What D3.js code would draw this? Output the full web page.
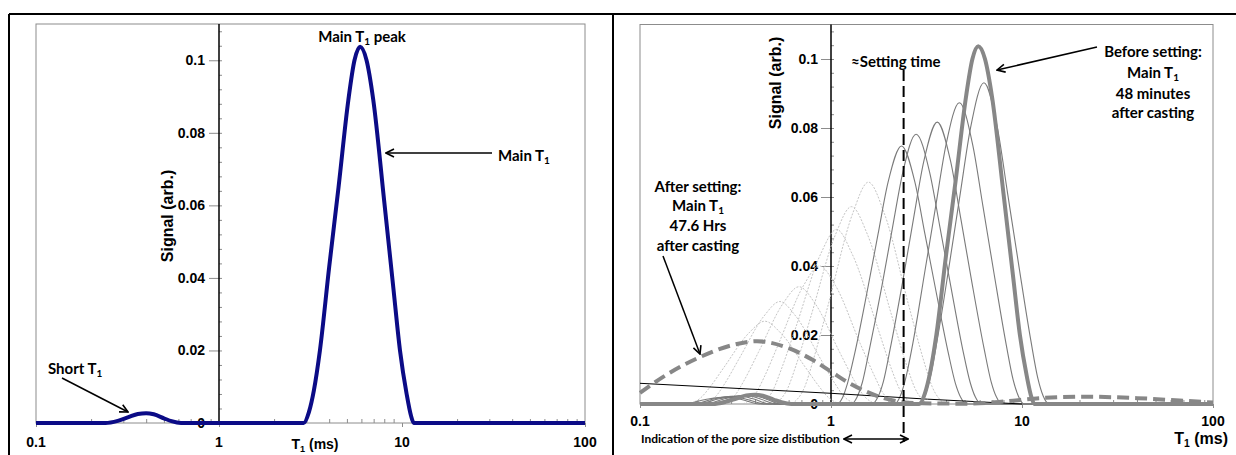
<!DOCTYPE html>
<html>
<head>
<meta charset="utf-8">
<script src="https://cdn.jsdelivr.net/npm/d3@7"></script>
<style>
  body { margin: 0; background: #fff; }
  svg { display: block; }
  .tick-lbl { font-family: Arial, "Liberation Sans", sans-serif; font-weight: bold; font-size: 14px; }
  .note { font-family: Lato, "Open Sans", sans-serif; font-weight: bold; font-size: 15px; }
</style>
</head>
<body>
<script>
// ---- data (T1 in ms, signal in arb. units) ----

// main T1 distribution, 48 minutes after casting (also the left panel curve)
var mainT1 = [[0.1, 0], [0.24, 0], [0.28, 0.0006], [0.32, 0.0016], [0.36, 0.0025], [0.4, 0.0027],
  [0.44, 0.0024], [0.5, 0.0013], [0.55, 0.0005], [0.62, 0], [2.9, 0], [3.1, 0.003], [3.3, 0.009],
  [3.56, 0.02], [4.0, 0.043], [4.5, 0.065], [5.09, 0.089], [5.5, 0.1], [5.9, 0.1037], [6.4, 0.1],
  [6.97, 0.089], [8.0, 0.061], [9.0, 0.0365], [9.75, 0.02], [10.6, 0.008], [11.2, 0.002], [11.6, 0], [100, 0]];

// intermediate curves (solid thin), earliest -> latest
var solid1 = [[0.1, 0], [0.17, 0], [0.22, 0.0013], [0.28, 0.002], [0.34, 0.0013], [0.42, 0], [1.07, 0], [1.15, 0.0019], [1.22, 0.006],
  [1.33, 0.0146], [1.55, 0.0329], [1.76, 0.049], [1.99, 0.0643], [2.34, 0.0748], [2.75, 0.0643], [3.11, 0.049],
  [3.54, 0.0329], [4.12, 0.0146], [4.48, 0.006], [4.78, 0.0019], [5.12, 0], [100, 0]];
var solid2 = [[0.1, 0], [0.19, 0], [0.24, 0.0014], [0.3, 0.0022], [0.36, 0.0014], [0.45, 0], [1.28, 0], [1.37, 0.002], [1.46, 0.0063],
  [1.58, 0.0152], [1.85, 0.0344], [2.1, 0.0512], [2.38, 0.0673], [2.79, 0.0782], [3.28, 0.0673], [3.72, 0.0512],
  [4.23, 0.0344], [4.92, 0.0152], [5.35, 0.0063], [5.7, 0.002], [6.11, 0], [100, 0]];
var solid3 = [[0.1, 0], [0.2, 0], [0.26, 0.0015], [0.33, 0.0024], [0.39, 0.0015], [0.48, 0], [1.64, 0], [1.76, 0.002], [1.88, 0.0065],
  [2.04, 0.0159], [2.38, 0.0359], [2.7, 0.0535], [3.06, 0.0703], [3.6, 0.0817], [4.23, 0.0703], [4.79, 0.0535],
  [5.44, 0.0359], [6.34, 0.0159], [6.89, 0.0065], [7.35, 0.002], [7.87, 0], [100, 0]];
var solid4 = [[0.1, 0], [0.22, 0], [0.28, 0.0016], [0.36, 0.0025], [0.42, 0.0016], [0.52, 0], [2.15, 0], [2.3, 0.0022], [2.45, 0.007],
  [2.67, 0.017], [3.1, 0.0384], [3.53, 0.0572], [4.0, 0.0751], [4.7, 0.0873], [5.52, 0.0751], [6.25, 0.0572],
  [7.11, 0.0384], [8.28, 0.017], [8.99, 0.007], [9.59, 0.0022], [10.28, 0], [100, 0]];
var solid5 = [[0.1, 0], [0.23, 0], [0.3, 0.0016], [0.38, 0.0026], [0.45, 0.0016], [0.55, 0], [2.89, 0], [3.1, 0.0023], [3.3, 0.0074],
  [3.59, 0.0182], [4.18, 0.041], [4.75, 0.061], [5.38, 0.0801], [6.32, 0.0931], [7.43, 0.0801], [8.41, 0.061],
  [9.57, 0.041], [11.14, 0.0182], [12.11, 0.0074], [12.91, 0.0023], [13.84, 0], [100, 0]];

// later curves (light dotted)
var dotted1 = [[0.625, 0], [0.73, 0.0051], [0.805, 0.0125], [0.962, 0.0283], [1.3, 0.0553], [1.57, 0.0643],
  [1.9, 0.0553], [2.56, 0.0283], [3.06, 0.0125], [3.38, 0.0051], [3.94, 0]];
var dotted2 = [[0.509, 0], [0.594, 0.0046], [0.656, 0.0112], [0.783, 0.0252], [1.057, 0.0492], [1.28, 0.0572],
  [1.55, 0.0492], [2.09, 0.0252], [2.49, 0.0112], [2.75, 0.0046], [3.21, 0]];
var dotted3 = [[0.426, 0], [0.497, 0.004], [0.548, 0.0099], [0.655, 0.0223], [0.883, 0.0435], [1.07, 0.0506],
  [1.29, 0.0435], [1.75, 0.0223], [2.08, 0.0099], [2.3, 0.004], [2.69, 0]];
var dotted4 = [[0.347, 0], [0.405, 0.0032], [0.447, 0.0078], [0.533, 0.0176], [0.719, 0.0344], [0.87, 0.04],
  [1.054, 0.0344], [1.42, 0.0176], [1.7, 0.0078], [1.87, 0.0032], [2.19, 0]];
var dotted5 = [[0.271, 0], [0.316, 0.0027], [0.349, 0.0066], [0.417, 0.015], [0.562, 0.0292], [0.68, 0.034],
  [0.824, 0.0292], [1.11, 0.015], [1.33, 0.0066], [1.47, 0.0027], [1.71, 0]];
var dotted6 = [[0.215, 0], [0.251, 0.0024], [0.277, 0.0058], [0.33, 0.0131], [0.446, 0.0255], [0.54, 0.0297],
  [0.653, 0.0255], [0.881, 0.0131], [1.052, 0.0058], [1.16, 0.0024], [1.36, 0]];
var dotted7 = [[0.179, 0], [0.209, 0.0019], [0.231, 0.0047], [0.275, 0.0106], [0.372, 0.0206], [0.45, 0.024],
  [0.545, 0.0206], [0.735, 0.0106], [0.877, 0.0047], [0.968, 0.0019], [1.13, 0]];

// 47.6 hrs after casting (thick dashed)
var afterT1 = [[0.1, 0.0032], [0.137, 0.0084], [0.204, 0.0135], [0.306, 0.0171], [0.41, 0.0182], [0.605, 0.0161],
  [0.8, 0.0128], [1.0, 0.0094], [1.25, 0.006], [1.5, 0.0038], [1.79, 0.0021], [2.28, 0.0007], [3.0, 0.0002],
  [5.0, 0.0001], [8.0, 0.0007], [12.4, 0.0017], [21.8, 0.0021], [40, 0.0017], [67, 0.001], [100, 0.0004]];

// thin black line
var blackLine = [[0.1, 0.006], [1, 0.0031], [3.2, 0.0014], [10, 0]];

var settingT1 = 2.4;

var xTicks = [0.1, 1, 10, 100];
var xTickLabels = ["0.1", "1", "10", "100"];
var yTicks = [0, 0.02, 0.04, 0.06, 0.08, 0.1];
var yTickLabels = ["0", "0.02", "0.04", "0.06", "0.08", "0.1"];


var W = 1236, H = 455;
var svg = d3.select("body").append("svg").attr("width", W).attr("height", H);

// arrow heads
var defs = svg.append("defs");
defs.append("marker").attr("id", "arr").attr("viewBox", "0 0 10 10")
    .attr("refX", 9).attr("refY", 5).attr("markerWidth", 10).attr("markerHeight", 10)
    .attr("markerUnits", "userSpaceOnUse").attr("orient", "auto-start-reverse")
  .append("path").attr("d", "M1,1 L9,5 L1,9").attr("fill", "none").attr("stroke", "#000").attr("stroke-width", 1.6);

// outer frame
svg.append("line").attr("x1", 9).attr("x2", W).attr("y1", 14).attr("y2", 14).attr("stroke", "#000").attr("stroke-width", 2);
svg.append("line").attr("x1", 9).attr("x2", 9).attr("y1", 14).attr("y2", H).attr("stroke", "#000").attr("stroke-width", 2);
svg.append("line").attr("x1", 613).attr("x2", 613).attr("y1", 14).attr("y2", H).attr("stroke", "#000").attr("stroke-width", 2);


// draws box, axes and tick labels of one panel, returns the scales
function drawFrame(p) {
  var x = d3.scaleLog().domain([0.1, 100]).range([p.left, p.right]);
  var y = d3.scaleLinear().domain([0, 0.11]).range([p.base, p.top]);
  var g = svg.append("g");

  g.append("rect").attr("x", p.left).attr("y", p.top).attr("width", p.right - p.left)
    .attr("height", p.base - p.top).attr("fill", "none").attr("stroke", "#8c8c8c").attr("stroke-width", 1);

  // x minor ticks (inside) and major (outside)
  var minor = [];
  [0.1, 1, 10].forEach(function(d) { for (var k = 2; k < 10; k++) minor.push(d * k); });
  g.append("g").attr("transform", "translate(0," + p.base + ")")
    .call(d3.axisTop(x).tickValues(minor).tickSize(4).tickFormat(""))
    .call(function(a) { a.select(".domain").remove(); a.selectAll("line").attr("stroke", "#8c8c8c"); });
  g.append("g").attr("transform", "translate(0," + p.base + ")")
    .call(d3.axisBottom(x).tickValues(xTicks).tickSize(4).tickFormat(""))
    .call(function(a) { a.select(".domain").remove(); a.selectAll("line").attr("stroke", "#8c8c8c"); });
  g.selectAll(".xl").data(xTicks).enter().append("text")
    .attr("class", "tick-lbl").attr("x", function(d) { return x(d); }).attr("y", p.base + p.xLblDy)
    .attr("text-anchor", "middle").text(function(d, i) { return xTickLabels[i]; });

  // y axis sits at T1 = 1
  var ax = x(1);
  g.append("g").attr("transform", "translate(" + ax + ",0)")
    .call(d3.axisRight(y).tickValues(d3.range(0.004, 0.11, 0.004)).tickSize(3).tickFormat(""))
    .call(function(a) { a.select(".domain").remove(); a.selectAll("line").attr("stroke", "#8c8c8c"); });
  g.append("g").attr("transform", "translate(" + ax + ",0)")
    .call(d3.axisLeft(y).tickValues(yTicks).tickSize(10).tickFormat(""))
    .call(function(a) { a.select(".domain").remove(); a.selectAll("line").attr("stroke", "#8c8c8c"); });
  g.append("line").attr("x1", ax).attr("x2", ax).attr("y1", p.top).attr("y2", p.base)
    .attr("stroke", "#000").attr("stroke-width", 1.5);
  g.selectAll(".yl").data(yTicks).enter().append("text")
    .attr("class", "tick-lbl").attr("x", ax - p.yLblDx).attr("y", function(d) { return y(d) + 5; })
    .attr("text-anchor", "end").text(function(d, i) { return yTickLabels[i]; });

  // axis titles
  g.append("text").attr("class", "tick-lbl").style("font-size", "16px")
    .attr("transform", "translate(" + p.yTitleX + "," + p.yTitleY + ") rotate(-90)")
    .attr("text-anchor", "middle").text("Signal (arb.)");
  var t = g.append("text").attr("class", "tick-lbl").style("font-size", p.xTitleSize + "px")
    .attr("x", p.xTitleX).attr("y", p.xTitleY).attr("text-anchor", p.xTitleAnchor);
  t.append("tspan").text("T");
  t.append("tspan").attr("dy", 3).style("font-size", (p.xTitleSize * 0.65) + "px").text("1");
  t.append("tspan").attr("dy", -3).text(" (ms)");

  return { x: x, y: y };
}

// text with an optional subscript "1" (written as "_1" in parts)
function note(x, y, parts, anchor, size) {
  var t = svg.append("text").attr("class", "note").attr("x", x).attr("y", y)
    .attr("text-anchor", anchor || "start");
  if (size) t.style("font-size", size + "px");
  var lift = 0;
  parts.forEach(function(s) {
    if (s === "_1") {
      t.append("tspan").attr("dy", 3).style("font-size", "10px").text("1");
      lift = -3;
    } else {
      t.append("tspan").attr("dy", lift).text(s);
      lift = 0;
    }
  });
  return t;
}

function arrow(x1, y1, x2, y2, both) {
  var l = svg.append("line").attr("x1", x1).attr("y1", y1).attr("x2", x2).attr("y2", y2)
    .attr("stroke", "#000").attr("stroke-width", 1.5).attr("marker-end", "url(#arr)");
  if (both) l.attr("marker-start", "url(#arr)");
}

////////////////////////////////////////
// left panel
var L = drawFrame({ left: 36, right: 585, top: 24, base: 423, xLblDy: 24, yLblDx: 14,
  yTitleX: 173, yTitleY: 216, xTitleX: 315, xTitleY: 449, xTitleSize: 14, xTitleAnchor: "middle" });

var lineL = d3.line().x(function(d) { return L.x(d[0]); }).y(function(d) { return L.y(d[1]); })
  .curve(d3.curveMonotoneX);
svg.append("path").datum(mainT1).attr("d", lineL)
  .attr("fill", "none").attr("stroke", "#0b0b86").attr("stroke-width", 4).attr("stroke-linejoin", "round");

note(362, 42, ["Main T", "_1", " peak"], "middle");
note(498, 161, ["Main T", "_1"]);
arrow(492, 153, 386, 153);
note(48, 374, ["Short T", "_1"]);
arrow(62, 378, 128, 412);

////////////////////////////////////////
// right panel
var R = drawFrame({ left: 640, right: 1213, top: 24.5, base: 404, xLblDy: 22, yLblDx: 13,
  yTitleX: 781, yTitleY: 83, xTitleX: 1228, xTitleY: 444, xTitleSize: 16, xTitleAnchor: "end" });

var lineR = d3.line().x(function(d) { return R.x(d[0]); }).y(function(d) { return R.y(d[1]); })
  .curve(d3.curveMonotoneX);

[dotted1, dotted2, dotted3, dotted4, dotted5, dotted6, dotted7].forEach(function(s) {
  svg.append("path").datum(s).attr("d", lineR).attr("fill", "none")
    .attr("stroke", "#c4c4c4").attr("stroke-width", 1).attr("stroke-dasharray", "2,1.5");
});
[solid1, solid2, solid3, solid4, solid5].forEach(function(s) {
  svg.append("path").datum(s).attr("d", lineR).attr("fill", "none")
    .attr("stroke", "#7a7a7a").attr("stroke-width", 1.1);
});
svg.append("path").datum(blackLine).attr("d", lineR.curve(d3.curveLinear)).attr("fill", "none")
  .attr("stroke", "#000").attr("stroke-width", 1);
lineR.curve(d3.curveMonotoneX);
svg.append("path").datum(afterT1).attr("d", lineR).attr("fill", "none")
  .attr("stroke", "#878787").attr("stroke-width", 4).attr("stroke-dasharray", "12,6");
svg.append("path").datum(mainT1).attr("d", lineR).attr("fill", "none")
  .attr("stroke", "#878787").attr("stroke-width", 4).attr("stroke-linejoin", "round");

// setting time marker
svg.append("line").attr("x1", R.x(settingT1)).attr("x2", R.x(settingT1)).attr("y1", 70).attr("y2", 442)
  .attr("stroke", "#000").attr("stroke-width", 2).attr("stroke-dasharray", "11,5");
note(851, 67, ["\u2248Setting time"]);

note(1153, 57, ["Before setting:"], "middle");
note(1153, 78, ["Main T", "_1"], "middle");
note(1153, 99, ["48 minutes"], "middle");
note(1153, 118, ["after casting"], "middle");
arrow(1097, 47, 997, 70);

note(698, 192, ["After setting:"], "middle");
note(698, 211, ["Main T", "_1"], "middle");
note(698, 231, ["47.6 Hrs"], "middle");
note(698, 251, ["after casting"], "middle");
arrow(663, 256, 700, 354);

note(641, 443, ["Indication of the pore size distibution"], "start", 12);
arrow(844, 439, 908, 439, true);
</script>
</body>
</html>
